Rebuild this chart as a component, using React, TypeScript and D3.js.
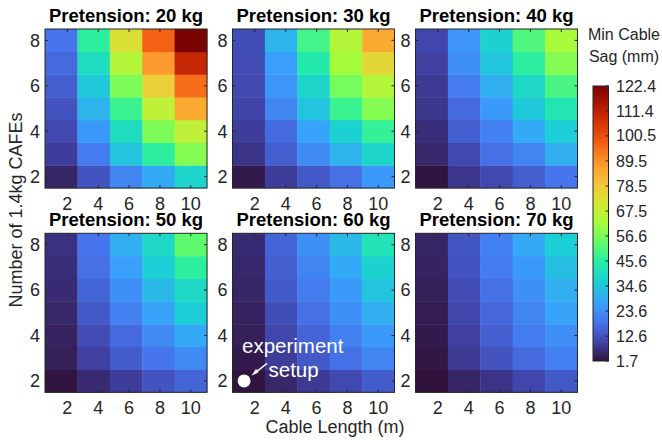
import React from 'react';
import * as d3 from 'd3';

// cable length (m) at the centre of each column, number of CAFEs per row
const cableLengths = [1.6, 3.7, 5.8, 7.9, 10];
const cafeCounts = [2, 3, 4, 5, 6, 7, 8];
const pretensions = [20, 30, 40, 50, 60, 70];
const xTicks = [2, 4, 6, 8, 10];
const yTicks = [2, 4, 6, 8];

// min cable sag (mm); one row per CAFE count (2 .. 8), one column per cable length
const sag20 = [
  [5, 13, 22, 29, 38],
  [9, 20, 34, 46, 58],
  [11, 26, 40, 57, 67],
  [13, 31, 48, 67, 85],
  [15, 35, 57, 77, 95],
  [17, 40, 65, 88, 110],
  [19, 46, 73, 97, 122.4],
];
const sag30 = [
  [3, 9, 14, 18, 26],
  [7.5, 15, 23, 31, 38],
  [9, 17, 28, 37, 47],
  [10, 22, 34, 48, 58],
  [11, 25, 38, 56, 65],
  [11.5, 27, 44, 62, 75],
  [12, 31, 49, 65, 85],
];
const sag40 = [
  [2, 8, 11, 15, 19],
  [5.5, 11, 18, 22, 30],
  [6.5, 15, 21, 29, 36],
  [8, 17, 26, 35, 43],
  [8.5, 20, 30, 39, 50],
  [9.5, 24, 34, 46, 58],
  [10.5, 25, 37, 51, 63],
];
const sag50 = [
  [2, 6, 9, 13, 16],
  [4, 9.5, 14.5, 19, 23],
  [4.5, 11.5, 17, 23, 29],
  [5.5, 14, 21, 28, 36],
  [6, 16, 24, 32, 39],
  [6.5, 18, 27, 36, 46],
  [7, 19, 30, 39, 53],
];
const sag60 = [
  [2, 5.5, 8.5, 11, 14.5],
  [3, 9, 14, 18, 22],
  [4, 10.5, 16, 21, 26],
  [4.5, 12, 18, 24, 30],
  [5, 14, 20, 26, 34],
  [5.5, 15, 22, 29, 37],
  [6, 16, 24, 32, 42],
];
const sag70 = [
  [1.7, 5, 7.5, 10.5, 14],
  [2.5, 8.5, 13, 17, 21],
  [3, 9.5, 15, 20, 24],
  [3.5, 10.5, 16.5, 22, 28],
  [4, 11.5, 18, 24, 30],
  [4.5, 13, 20, 26, 33],
  [5, 13.5, 21, 29, 36],
];
const sagByPretension = [sag20, sag30, sag40, sag50, sag60, sag70];

const cbarTicks = [1.7, 12.6, 23.6, 34.6, 45.6, 56.6, 67.5, 78.5, 89.5, 100.5, 111.4, 122.4];
const sagMin = 1.7;
const sagMax = 122.4;

// experiment setup marker (60 kg panel)
const setupPoint = { length: 1.3, cafes: 2 };

const turboStops = [
  '#30123b', '#4145ab', '#4675ed', '#39a2fc', '#1bcfd4', '#24eca6', '#61fc6c', '#a4fc3b',
  '#d1e834', '#f3c63a', '#fe9b2d', '#f36315', '#d93806', '#b11901', '#7a0402',
];
const turbo = d3.piecewise(d3.interpolateRgb, turboStops);
const colorOf = (v: number) => turbo((v - sagMin) / (sagMax - sagMin));

const FONT = 'Arial, "Liberation Sans", Helvetica, sans-serif';
const AX = '#262626';

const panelLefts = [45, 232.5, 415.5];
const panelTops = [29, 233.3];
const W = 162;
const H = 159;
const cellSpan = 2.1;

const x = d3.scaleLinear().domain([0.55, 11.05]).range([0, W]);
const y = d3.scaleLinear().domain([1.5, 8.5]).range([H, 0]);

const Panel = ({ idx }: { idx: number }) => {
  const left = panelLefts[idx % 3];
  const top = panelTops[Math.floor(idx / 3)];
  const data = sagByPretension[idx];
  const cw = x(cellSpan) - x(0);
  const ch = y(0) - y(1);
  const tick = 3;
  return (
    <g transform={`translate(${left},${top})`}>
      {data.map((row, r) =>
        row.map((v, c) => (
          <rect
            key={`${r}-${c}`}
            x={x(cableLengths[c] - cellSpan / 2)}
            y={y(cafeCounts[r] + 0.5)}
            width={cw + 0.4}
            height={ch + 0.4}
            fill={colorOf(v)}
          />
        ))
      )}
      <rect x={0} y={0} width={W} height={H} fill="none" stroke={AX} strokeWidth={1} />
      {xTicks.map(t => (
        <g key={`x${t}`}>
          <line x1={x(t)} x2={x(t)} y1={H} y2={H - tick} stroke={AX} />
          <line x1={x(t)} x2={x(t)} y1={0} y2={tick} stroke={AX} />
          <text x={x(t)} y={H + 21.5} textAnchor="middle" fontSize={18} fill={AX} fontFamily={FONT}>
            {t}
          </text>
        </g>
      ))}
      {yTicks.map(t => (
        <g key={`y${t}`}>
          <line x1={0} x2={tick} y1={y(t)} y2={y(t)} stroke={AX} />
          <line x1={W} x2={W - tick} y1={y(t)} y2={y(t)} stroke={AX} />
          <text x={-5} y={y(t)} dy="0.35em" textAnchor="end" fontSize={18} fill={AX} fontFamily={FONT}>
            {t}
          </text>
        </g>
      ))}
      <text x={W / 2} y={-7} textAnchor="middle" fontSize={18.5} fontWeight="bold" fill="#000" fontFamily={FONT}>
        {`Pretension: ${pretensions[idx]} kg`}
      </text>
      {idx === 4 && (
        <g>
          <circle cx={x(setupPoint.length)} cy={y(setupPoint.cafes)} r={6.5} fill="#fff" />
          <line x1={34.5} y1={130} x2={22} y2={140} stroke="#fff" strokeWidth={1.5} />
          <path d="M19,142.5 L23.5,135.5 L26,139 Z" fill="#fff" />
          <text x={9.5} y={119.5} fontSize={20.5} fill="#fff" fontFamily={FONT}>experiment</text>
          <text x={36} y={144} fontSize={20.5} fill="#fff" fontFamily={FONT}>setup</text>
        </g>
      )}
    </g>
  );
};

const Colorbar = () => {
  const cx = 593;
  const cwid = 15.5;
  const cy = d3.scaleLinear().domain([sagMin, sagMax]).range([361, 86]);
  return (
    <g>
      <defs>
        <linearGradient id="turboGrad" x1="0" y1="1" x2="0" y2="0">
          {turboStops.map((c, i) => (
            <stop key={i} offset={`${(i / (turboStops.length - 1)) * 100}%`} stopColor={c} />
          ))}
        </linearGradient>
      </defs>
      <rect x={cx} y={cy(sagMax)} width={cwid} height={cy(sagMin) - cy(sagMax)} fill="url(#turboGrad)" stroke={AX} strokeWidth={1} />
      {cbarTicks.map(t => (
        <g key={t}>
          <line x1={cx + cwid} x2={cx + cwid - 3} y1={cy(t)} y2={cy(t)} stroke={AX} />
          <text x={cx + 23} y={cy(t)} dy="0.35em" fontSize={16} fill={AX} fontFamily={FONT}>
            {t.toFixed(1)}
          </text>
        </g>
      ))}
      <text x={624} y={40} textAnchor="middle" fontSize={16} fill={AX} fontFamily={FONT}>Min Cable</text>
      <text x={624} y={62} textAnchor="middle" fontSize={16} fill={AX} fontFamily={FONT}>Sag (mm)</text>
    </g>
  );
};

export default function App() {
  return (
    <svg
      width={662}
      height={440}
      style={{ position: 'absolute', left: 0, top: 0, background: '#fff' }}
    >
      {pretensions.map((p, i) => (
        <Panel key={p} idx={i} />
      ))}
      <Colorbar />
      <text x={335} y={433} textAnchor="middle" fontSize={18} fill={AX} fontFamily={FONT}>
        Cable Length (m)
      </text>
      <text
        transform="translate(22,210) rotate(-90)"
        textAnchor="middle"
        fontSize={18}
        fill={AX}
        fontFamily={FONT}
      >
        Number of 1.4kg CAFEs
      </text>
    </svg>
  );
}
